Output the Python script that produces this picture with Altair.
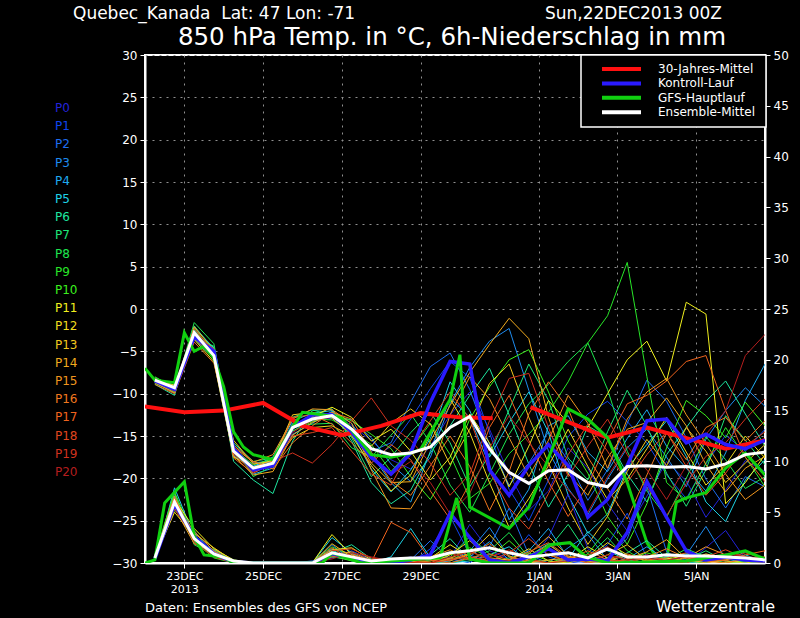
import altair as alt
import pandas as pd

FONT = "DejaVu Sans"

# ---------------- data ----------------
hours = [6, 18, 30, 42, 54, 66, 78, 90, 102, 114, 126, 138, 150, 162, 174, 186,
         198, 210, 222, 234, 246, 258, 270, 282, 294, 306, 318, 330, 342, 354, 366, 378]

members = ["P0", "P1", "P2", "P3", "P4", "P5", "P6", "P7", "P8", "P9", "P10",
           "P11", "P12", "P13", "P14", "P15", "P16", "P17", "P18", "P19", "P20"]
member_colors = ["#2323d8", "#0f46f0", "#1e6ef0", "#1e8cf0", "#1eaaf0", "#1ed2e6",
                 "#1ee6a0", "#1ee678", "#1ee650", "#28e628", "#3cf01e", "#f0f01e",
                 "#f0dc1e", "#f0c81e", "#f0aa1e", "#f0961e", "#f0781e", "#f0641e",
                 "#e0461e", "#d0321e", "#b41e1e"]

t_P0 = [-8.6,-9.6,-3.2,-5.2,-16.9,-19.2,-18.3,-14.5,-12.8,-12.2,-13.8,-15.5,-17.8,-18.9,-16.2,-12.5,
        -9.8,-14.2,-19.5,-23.8,-21.5,-16.4,-18.8,-23.0,-26.2,-22.1,-18.0,-20.3,-24.6,-21.4,-17.9,-19.2]
t_P1 = [-8.3,-9.2,-2.9,-5.8,-16.4,-18.5,-18.0,-13.8,-13.2,-12.9,-14.9,-17.8,-16.2,-13.0,-9.4,-6.2,
        -8.1,-14.6,-21.3,-25.0,-20.2,-15.1,-12.4,-10.9,-13.3,-15.8,-19.6,-22.4,-18.3,-14.9,-16.8,-14.2]
t_P2 = [-8.4,-9.5,-2.5,-5.0,-17.2,-18.9,-18.6,-14.2,-12.6,-12.4,-14.0,-16.8,-15.8,-11.0,-6.8,-5.2,
        -9.5,-16.0,-20.8,-18.2,-14.5,-17.9,-22.6,-19.0,-13.5,-8.4,-10.9,-15.2,-20.1,-23.5,-19.8,-21.0]
t_P3 = [-8.7,-9.9,-3.5,-5.9,-16.0,-18.2,-17.9,-13.5,-12.9,-12.7,-13.1,-15.2,-18.3,-20.4,-17.5,-11.2,
        -6.9,-3.8,-2.3,-9.6,-16.8,-21.2,-24.3,-20.1,-16.4,-14.2,-17.5,-21.0,-15.4,-12.0,-9.3,-11.5]
t_P4 = [-8.2,-9.0,-3.0,-5.4,-16.6,-19.5,-18.8,-14.8,-13.5,-12.1,-13.5,-17.2,-20.5,-22.8,-16.8,-10.5,
        -12.8,-18.4,-24.9,-21.3,-13.8,-12.6,-16.9,-19.2,-15.3,-11.9,-16.2,-18.8,-21.5,-17.0,-10.8,-6.5]
t_P5 = [-8.5,-9.4,-2.2,-4.6,-17.4,-18.6,-17.5,-13.2,-12.3,-12.0,-14.6,-18.9,-21.6,-19.0,-15.3,-8.6,
        -12.0,-17.5,-13.4,-9.8,-14.6,-22.0,-26.5,-24.2,-18.8,-16.0,-13.2,-17.4,-22.8,-25.1,-20.2,-17.8]
t_P6 = [-8.9,-10.2,-2.0,-4.8,-18.0,-20.2,-21.8,-15.6,-12.0,-11.8,-15.6,-20.5,-23.0,-21.4,-17.0,-13.8,
        -10.2,-7.0,-12.5,-18.3,-23.4,-19.5,-13.8,-15.2,-19.5,-22.8,-17.2,-14.0,-10.9,-8.5,-12.4,-16.2]
t_P7 = [-8.1,-9.1,-3.3,-4.4,-15.8,-18.0,-17.6,-12.8,-11.9,-12.6,-15.2,-19.8,-17.5,-14.6,-12.2,-15.8,
        -21.0,-17.2,-11.9,-6.5,-10.8,-17.6,-20.2,-14.5,-9.6,-13.8,-19.4,-23.3,-19.0,-12.6,-15.5,-18.4]
t_P8 = [-8.8,-9.7,-1.6,-4.1,-16.2,-19.8,-18.5,-14.0,-13.6,-13.5,-16.4,-17.5,-14.9,-12.4,-15.8,-20.8,
        -24.0,-19.5,-14.8,-11.2,-8.9,-6.2,-4.0,-9.5,-16.8,-21.5,-24.6,-20.0,-15.1,-17.8,-21.2,-19.8]
t_P9 = [-8.0,-9.3,-2.7,-5.6,-17.0,-19.0,-18.1,-13.6,-13.0,-13.1,-14.4,-16.0,-19.2,-16.6,-13.5,-17.2,
        -22.4,-20.6,-17.1,-14.8,-12.2,-8.6,-4.0,-0.8,5.5,-8.0,-20.5,-22.6,-18.2,-14.0,-17.5,-21.0]
t_P10 = [-8.3,-9.8,-2.4,-5.0,-16.5,-18.4,-17.7,-14.4,-13.3,-12.3,-13.2,-14.8,-16.5,-19.8,-22.5,-18.6,
         -13.0,-9.2,-6.0,-4.8,-9.8,-15.6,-19.4,-24.5,-27.8,-23.0,-16.4,-10.8,-12.6,-15.2,-11.0,-13.8]
t_P11 = [-8.4,-9.4,-3.6,-6.2,-17.5,-18.7,-17.8,-13.9,-12.7,-11.6,-12.8,-15.6,-14.2,-16.8,-20.2,-17.5,
         -12.4,-15.8,-21.0,-16.2,-10.8,-13.5,-14.0,-10.0,-6.0,-3.8,-8.5,0.8,-0.6,-23.0,-20.5,-17.2]
t_P12 = [-8.6,-9.5,-2.6,-5.3,-16.8,-18.8,-18.4,-15.2,-14.0,-13.8,-15.0,-18.5,-21.5,-19.6,-14.8,-10.6,
         -14.6,-20.5,-25.8,-22.4,-18.5,-14.2,-18.6,-22.5,-20.1,-16.5,-12.8,-16.9,-20.8,-18.4,-15.0,-17.6]
t_P13 = [-8.3,-9.0,-3.4,-5.7,-15.5,-18.3,-18.0,-12.5,-12.2,-12.9,-14.8,-16.2,-13.5,-11.8,-13.6,-18.4,
         -14.2,-8.8,-6.5,-12.8,-18.2,-23.5,-27.8,-24.5,-19.2,-15.4,-18.5,-14.0,-16.8,-20.5,-18.2,-16.0]
t_P14 = [-8.7,-9.9,-2.1,-4.9,-17.3,-19.6,-19.2,-14.9,-13.4,-12.5,-14.3,-18.2,-20.5,-20.4,-15.6,-11.4,
         -7.5,-4.2,-1.1,-3.5,-12.8,-19.5,-22.0,-17.6,-14.2,-13.4,-10.5,-13.8,-18.4,-21.6,-18.8,-17.4]
t_P15 = [-8.5,-9.3,-2.8,-5.5,-16.3,-18.1,-17.2,-13.0,-11.8,-11.9,-13.5,-19.0,-23.5,-23.6,-19.8,-12.5,
         -8.0,-10.6,-15.2,-19.8,-15.5,-10.2,-13.5,-18.8,-13.0,-9.8,-8.2,-12.5,-15.9,-19.5,-22.5,-20.8]
t_P16 = [-8.9,-10.0,-3.9,-6.4,-16.1,-18.0,-18.9,-15.8,-13.8,-12.2,-13.0,-16.9,-20.3,-22.0,-18.5,-15.0,
         -18.6,-23.8,-19.2,-12.4,-8.6,-11.8,-17.5,-21.2,-24.8,-19.6,-14.6,-17.8,-14.0,-12.8,-15.6,-13.2]
t_P17 = [-8.2,-9.2,-2.3,-5.1,-17.6,-19.4,-18.2,-12.8,-12.5,-13.6,-15.8,-18.2,-16.0,-17.8,-21.5,-24.8,
         -20.6,-14.0,-10.2,-15.5,-20.4,-24.5,-20.8,-15.6,-11.2,-10.2,-8.5,-6.2,-5.5,-12.0,-17.5,-20.4]
t_P18 = [-8.6,-9.7,-3.1,-4.7,-16.7,-19.0,-18.6,-15.0,-14.6,-14.0,-16.8,-19.5,-20.8,-16.5,-13.2,-9.8,
         -13.0,-19.2,-23.5,-26.0,-21.8,-17.2,-13.6,-16.8,-20.5,-17.2,-14.5,-18.6,-22.0,-19.4,-16.2,-14.5]
t_P19 = [-8.4,-9.6,-2.6,-5.3,-17.1,-19.3,-18.0,-17.0,-18.2,-16.0,-13.2,-10.5,-13.8,-15.5,-18.2,-22.0,
         -19.5,-13.2,-8.2,-7.6,-14.0,-19.8,-16.2,-13.0,-17.2,-21.0,-24.4,-20.6,-17.4,-15.8,-13.0,-10.6]
t_P20 = [-8.5,-9.4,-3.0,-5.6,-16.6,-18.7,-18.4,-14.6,-13.1,-12.8,-14.4,-17.6,-19.6,-18.0,-20.5,-24.2,
         -21.8,-16.4,-12.6,-15.8,-18.6,-21.4,-24.0,-19.8,-16.2,-19.0,-22.5,-18.5,-14.8,-12.0,-5.5,-3.0]

p_P0 = [0.4,6.2,2.4,0.8,0.1,0,0,0,0,1.2,0.4,0,0.2,0.6,0,0.5,3.8,1.2,0.4,0,2.5,6.8,1.4,0.2,0,0.8,0.3,0,1.5,3.2,0.4,0]
p_P1 = [0.6,5.5,2.8,1.0,0.2,0,0,0,0,0.5,1.2,0.3,0,0,1.4,4.6,0.8,0,0.3,2.8,0.6,0,0.2,1.8,4.9,0.5,0,0.4,0,0.9,0.2,0.1]
p_P2 = [0.3,6.8,2.2,0.7,0,0,0,0,0,1.8,0.2,0,0,0.3,2.2,0.4,0,1.6,5.4,0.8,0,0.3,0,0.5,2.4,7.5,1.1,0,0.2,0.6,0,0.5]
p_P3 = [0.5,5.9,3.0,1.2,0.1,0,0,0,0.2,0.8,0.6,0,0,0,0,0.2,1.2,3.5,0.6,0,0,1.5,2.8,0.3,0,0.6,0.2,0.8,3.6,0.4,0,0.2]
p_P4 = [0.7,6.5,2.0,0.9,0,0,0,0,0,1.4,0.9,0.2,0.4,0.1,0,0,0.6,2.1,0.3,1.2,3.4,0.5,0,0,0.4,1.6,0.3,0,0.5,0.2,1.1,0.3]
p_P5 = [0.2,7.4,2.6,1.1,0.2,0,0,0,0,2.5,1.0,0,0.6,3.4,0.5,0,0.2,0.8,1.6,0.2,0,0.4,3.1,1.2,0.3,0,0.6,0.9,0.2,0.4,0.8,0.1]
p_P6 = [0.4,6.0,2.3,1.3,0.3,0,0,0,0,1.0,1.8,0.4,0,0,0.8,2.4,0.3,0,0,0.7,1.9,0.4,0.2,0,1.0,2.2,0.5,0,0.3,0,0.4,0.2]
p_P7 = [0.5,5.2,3.2,0.6,0.1,0,0,0,0,0.6,0.3,0,0,0,0.3,0.6,2.6,0.9,0,0.2,1.4,3.8,0.9,0,0.2,0.5,0,0.3,1.2,0.2,0,0]
p_P8 = [0.6,6.9,1.8,0.8,0,0,0,0,0,0.9,0.5,0.1,0,0.2,0,0,0.4,1.2,3.0,0.5,0,0.2,0.6,2.5,0.4,0,0.3,1.4,0.6,0,0.2,0.4]
p_P9 = [0.3,5.7,2.1,0.5,0,0,0,0,0.1,1.6,0.7,0,0,0,0.2,0.9,0.3,0,0.5,1.0,0.2,0,0.9,3.4,1.2,0,0,0.2,0.8,0.3,0.5,0.2]
p_P10 = [0.8,7.0,2.5,1.0,0.2,0,0,0,0,0.7,0.2,0,0,0,0,0.4,1.5,0.6,2.2,0.4,0,0.6,0.2,0,0.3,1.0,0.4,0.2,0,0.6,1.2,0.3]
p_P11 = [0.4,6.3,3.4,1.4,0.3,0,0,0,0,2.8,0.8,0.2,0,0,0.5,1.8,0.6,0.2,0,0.4,0.8,0.2,1.6,0.5,0,0.2,0.4,0.7,0.2,0,0.3,0.1]
p_P12 = [0.5,5.0,2.6,0.9,0.1,0,0,0,0,1.3,1.5,0.3,0,0,0,0.8,2.2,0.5,0.3,1.4,0.2,0,0.5,2.0,0.8,0.2,0,0.6,0.4,0.2,0,0.3]
p_P13 = [0.6,6.1,2.9,1.5,0.2,0,0,0,0,1.9,0.6,0,0,0.1,0.4,0.2,0.9,2.8,0.7,0,0.3,0.5,0.2,0.8,1.8,0.3,0,0.2,0.9,0.4,0.2,0]
p_P14 = [0.3,5.4,1.9,1.1,0.1,0,0,0,0,1.1,0.4,0,0.3,0.2,0,0.5,1.2,0.3,0,0.9,2.6,0.7,0.2,0,0.4,1.1,2.3,0.4,0,0.3,0.6,0.2]
p_P15 = [0.7,6.6,2.2,0.7,0,0,0,0,0,0.8,1.1,0.2,0,0,0.6,1.3,0.4,0,0.2,0.6,1.8,0.5,0,0.3,0.7,0.2,0,0.5,1.6,0.8,0.3,0.1]
p_P16 = [0.4,5.8,3.1,1.2,0.2,0,0,0,0,1.5,0.3,0,0,0,0.2,0.4,0.8,1.9,0.6,0.2,0,0.4,1.2,0.3,0,0.6,1.4,0.5,0.2,0,0.4,0.6]
p_P17 = [0.5,6.4,2.4,0.8,0.1,0,0,0,0,0.6,0.9,0.1,4.0,3.0,0.3,0,0.5,0.9,0.3,1.1,2.0,0.6,0,0.4,0.9,0.3,0.5,1.0,0.4,0.2,0.8,1.2]
p_P18 = [0.6,5.6,2.7,1.0,0.2,0,0,0,0,1.2,1.4,0.5,0.2,0,0,0.3,0.6,0.2,1.0,2.4,0.8,0.2,0.5,0.3,0.2,0.8,0.2,0,0.6,1.3,0.5,0.2]
p_P19 = [0.4,6.0,2.0,0.6,0,0,0,0,0,0.9,0.7,0.3,0,0,0.4,1.0,0.3,0.6,1.3,0.4,0,0.2,0.8,1.6,0.4,0,0.3,0.6,0.2,0.4,1.0,0.4]
p_P20 = [0.5,5.3,2.5,0.9,0.1,0,0,0,0,0.4,1.0,0.6,0.2,0,0,0.6,1.1,0.4,0.2,0.6,1.5,0.4,0.2,0.8,0.3,0.5,0.2,0.7,0.4,0.9,0.6,0.5]

ctrl_temp = [-8.5,-9.5,-3.3,-5.0,-16.5,-19.0,-18.5,-14.0,-12.5,-12.5,-14.5,-17.5,-19.5,-17.0,-11.0,-6.2,
             -6.5,-19.0,-22.0,-18.5,-16.0,-18.5,-24.6,-22.5,-18.5,-13.2,-13.0,-15.8,-14.8,-16.0,-16.5,-15.5]
ctrl_prec = [0.4,5.8,2.6,0.9,0.1,0,0,0,0,0.9,0.5,0.1,0,0.3,0.8,4.9,
             2.5,0.3,0,0.6,1.4,0.3,0.4,0.2,3.0,8.0,4.5,1.2,0.3,0.6,0.3,0.2]

mean_temp = [-8.4,-9.3,-2.8,-5.5,-16.8,-18.8,-18.2,-14.0,-13.0,-12.6,-14.2,-16.5,-17.2,-17.0,-16.3,-14.0,
             -12.7,-16.5,-19.3,-20.6,-19.1,-19.0,-20.5,-21.0,-18.6,-18.5,-18.7,-18.6,-18.9,-18.3,-17.2,-16.9]
mean_prec = [0.5,6.0,2.4,0.9,0.2,0,0,0,0,1.0,0.6,0.2,0.4,0.5,0.5,1.0,
             1.2,1.5,1.0,0.6,0.8,1.0,0.5,1.4,0.6,0.6,0.8,0.7,0.7,0.6,0.5,0.3]

gfs_t_hours = [0,6,18,24,30,36,42,48,54,60,66,78,90,96,108,120,126,138,150,162,
               168,174,186,192,198,222,234,258,270,282,294,306,312,318,324,330,342,354,366,378]
gfs_temp = [-7.0,-8.4,-8.7,-2.8,-5.0,-4.4,-5.8,-9.2,-14.5,-16.3,-17.2,-17.8,-14.0,-12.2,-12.5,-12.9,-14.3,-17.2,-17.5,-17.0,
            -16.6,-14.6,-10.7,-5.4,-23.4,-25.9,-23.4,-11.8,-13.0,-15.2,-20.5,-27.6,-29.4,-29.6,-22.8,-22.3,-21.7,-18.8,-17.0,-19.6]
gfs_p_hours = [0,6,12,24,30,36,48,54,108,114,123,132,180,190,198,210,234,247,259,269,282,330,354,366,378]
gfs_prec = [0,0.3,5.9,8.0,2.6,0.8,0.6,0,0,1.0,0.5,0,0.5,6.4,0.4,0,0,1.8,2.0,0.6,0,0.2,0.8,1.2,0.4]

clim_hours_a = [0,24,48,72,96,120,144,168,192,212]
clim_temp_a = [-11.5,-12.2,-12.0,-11.1,-13.8,-14.9,-13.8,-12.3,-12.8,-12.9]
clim_hours_b = [235,282,306,354,378]
clim_temp_b = [-11.6,-15.2,-14.0,-16.5,-15.5]

tick_hours = [24, 72, 120, 168, 240, 288, 336]

legend_names = ["30-Jahres-Mittel", "Kontroll-Lauf", "GFS-Hauptlauf", "Ensemble-Mittel"]
legend_colors = ["#ff1010", "#2a1aff", "#10d010", "#ffffff"]

# ---------------- tables ----------------
member_temps = [t_P0, t_P1, t_P2, t_P3, t_P4, t_P5, t_P6, t_P7, t_P8, t_P9, t_P10,
                t_P11, t_P12, t_P13, t_P14, t_P15, t_P16, t_P17, t_P18, t_P19, t_P20]
member_precs = [p_P0, p_P1, p_P2, p_P3, p_P4, p_P5, p_P6, p_P7, p_P8, p_P9, p_P10,
                p_P11, p_P12, p_P13, p_P14, p_P15, p_P16, p_P17, p_P18, p_P19, p_P20]

rows = []
for m, ts, ps in zip(members, member_temps, member_precs):
    for h, t, p in zip(hours, ts, ps):
        rows.append({"member": m, "hour": h, "temp": t, "prec": p})
df_members = pd.DataFrame(rows)

df_main = pd.DataFrame({"hour": hours, "ctrl_t": ctrl_temp, "ctrl_p": ctrl_prec,
                        "mean_t": mean_temp, "mean_p": mean_prec})
df_gfs_t = pd.DataFrame({"hour": gfs_t_hours, "temp": gfs_temp})
df_gfs_p = pd.DataFrame({"hour": gfs_p_hours, "prec": gfs_prec})
df_clim = pd.concat([
    pd.DataFrame({"hour": clim_hours_a, "temp": clim_temp_a, "seg": "a"}),
    pd.DataFrame({"hour": clim_hours_b, "temp": clim_temp_b, "seg": "b"}),
])

# ---------------- scales / axes ----------------
label_expr = ("datum.value == 24 ? ['23DEC','2013'] : datum.value == 72 ? '25DEC' : "
              "datum.value == 120 ? '27DEC' : datum.value == 168 ? '29DEC' : "
              "datum.value == 240 ? ['1JAN','2014'] : datum.value == 288 ? '3JAN' : '5JAN'")

x_scale = alt.Scale(domain=[0, 378], nice=False, zero=False)
x_axis = alt.Axis(values=tick_hours, labelExpr=label_expr, title=None, grid=True,
                  gridColor="#909090", gridDash=[2, 5], gridWidth=1,
                  domainColor="white", domainWidth=2, tickColor="white", tickSize=5,
                  labelColor="white", labelFont=FONT, labelFontSize=11,
                  labelLineHeight=13, labelPadding=2)
X = alt.X("hour:Q", scale=x_scale, axis=x_axis)

t_scale = alt.Scale(domain=[-30, 30], nice=False, zero=False)
t_axis = alt.Axis(values=list(range(-30, 31, 5)), orient="left", title=None, grid=True,
                  gridColor="#909090", gridDash=[2, 5], gridWidth=1,
                  domainColor="white", domainWidth=2, tickColor="white", tickSize=5,
                  labelColor="white", labelFont=FONT, labelFontSize=12, labelPadding=3)
p_scale = alt.Scale(domain=[0, 50], nice=False, zero=False)
p_axis = alt.Axis(values=list(range(0, 51, 5)), orient="right", title=None, grid=False,
                  domainColor="white", domainWidth=2, tickColor="white", tickSize=5,
                  labelColor="white", labelFont=FONT, labelFontSize=12, labelPadding=3)


def TY(field):
    return alt.Y(field, scale=t_scale, axis=t_axis)


def PY(field):
    return alt.Y(field, scale=p_scale, axis=p_axis)


member_color = alt.Color("member:N", scale=alt.Scale(domain=members, range=member_colors), legend=None)

# ---------------- temperature group ----------------
mem_t = alt.Chart(df_members).mark_line(strokeWidth=1, clip=True).encode(
    x=X, y=TY("temp:Q"), color=member_color, detail="member:N")
clim = alt.Chart(df_clim).mark_line(strokeWidth=4, color="#ff1010", clip=True).encode(
    x=X, y=TY("temp:Q"), detail="seg:N")
ctrl_t = alt.Chart(df_main).mark_line(strokeWidth=3.5, color="#2a1aff", clip=True).encode(
    x=X, y=TY("ctrl_t:Q"))
gfs_t = alt.Chart(df_gfs_t).mark_line(strokeWidth=3, color="#10d010", clip=True).encode(
    x=X, y=TY("temp:Q"))
mean_t = alt.Chart(df_main).mark_line(strokeWidth=3, color="white", clip=True).encode(
    x=X, y=TY("mean_t:Q"))
temp_group = alt.layer(mem_t, clim, ctrl_t, gfs_t, mean_t)

# ---------------- precipitation group ----------------
mem_p = alt.Chart(df_members).mark_line(strokeWidth=1, clip=True).encode(
    x=X, y=PY("prec:Q"), color=member_color, detail="member:N")
ctrl_p = alt.Chart(df_main).mark_line(strokeWidth=3.5, color="#2a1aff", clip=True).encode(
    x=X, y=PY("ctrl_p:Q"))
gfs_p = alt.Chart(df_gfs_p).mark_line(strokeWidth=3, color="#10d010", clip=True).encode(
    x=X, y=PY("prec:Q"))
mean_p = alt.Chart(df_main).mark_line(strokeWidth=3, color="white", clip=True).encode(
    x=X, y=PY("mean_p:Q"))
prec_group = alt.layer(mem_p, ctrl_p, gfs_p, mean_p)

# ---------------- legends & texts ----------------
df_box = pd.DataFrame({"a": [0]})
legend_box = alt.Chart(df_box).mark_rect(fill="black", stroke="white", strokeWidth=1.5).encode(
    x=alt.value(436), x2=alt.value(621), y=alt.value(0), y2=alt.value(72))

df_leg = pd.DataFrame({"name": legend_names, "col": legend_colors, "i": [0, 1, 2, 3]})
legend_lines = alt.Chart(df_leg).transform_calculate(ypos="14 + datum.i * 14.4").mark_rule(strokeWidth=4).encode(
    x=alt.value(457), x2=alt.value(496), y=alt.Y("ypos:Q", scale=None, axis=None),
    color=alt.Color("col:N", scale=None))
legend_text = alt.Chart(df_leg).transform_calculate(ypos="14 + datum.i * 14.4").mark_text(
    align="left", baseline="middle", color="white", font=FONT, fontSize=12).encode(
    x=alt.value(513), y=alt.Y("ypos:Q", scale=None, axis=None), text="name:N")

df_plab = pd.DataFrame({"member": members, "col": member_colors, "i": list(range(len(members)))})
p_labels = alt.Chart(df_plab).transform_calculate(ypos="53 + datum.i * 18.2").mark_text(
    align="left", baseline="middle", font=FONT, fontSize=12).encode(
    x=alt.value(-90), y=alt.Y("ypos:Q", scale=None, axis=None), text="member:N",
    color=alt.Color("col:N", scale=None))


def label(txt, x, y, size, align="left"):
    return alt.Chart(pd.DataFrame({"t": [txt]})).mark_text(
        align=align, baseline="alphabetic", color="white", font=FONT, fontSize=size).encode(
        x=alt.value(x), y=alt.value(y), text="t:N")


texts = alt.layer(
    label("Quebec_Kanada\u00a0\u00a0Lat: 47 Lon: -71", -72, -36, 17),
    label("Sun,22DEC2013 00Z", 577, -36, 17, "right"),
    label("850 hPa Temp. in °C, 6h-Niederschlag in mm", 307, -10, 24.5, "center"),
    label("Daten: Ensembles des GFS von NCEP", 0, 557, 13),
    label("Wetterzentrale", 630, 557, 16, "right"),
)

chart = alt.layer(
    temp_group, prec_group, legend_box, legend_lines, legend_text, p_labels, texts
).resolve_scale(y="independent").properties(
    width=620, height=508, autosize="none",
    padding={"left": 145, "top": 55, "right": 35, "bottom": 55},
    background="black",
).configure_view(stroke="white", strokeWidth=2)

chart.save("out.html", embed_options={"renderer": "svg", "actions": False})
